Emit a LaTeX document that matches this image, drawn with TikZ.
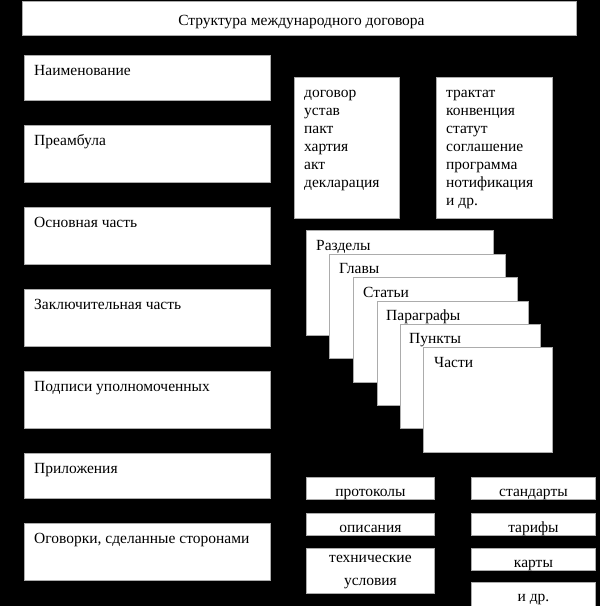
\documentclass[tikz,border=0pt]{standalone}
\usepackage{fontspec}
\setmainfont{Liberation Serif}
\begin{document}
\begin{tikzpicture}[x=1pt,y=-1pt,
  box/.style={draw=gray!65, fill=white, line width=0.9pt, inner sep=0pt, anchor=north west},
  lbl/.style={font=\fontsize{15.5}{18}\selectfont, inner sep=0pt, anchor=base west},
  clbl/.style={font=\fontsize{15.5}{18}\selectfont, inner sep=0pt, anchor=base}]
\useasboundingbox (0,0) rectangle (600,606);
\clip (0,0) rectangle (600,606);
\fill[black] (0,0) rectangle (600,606);
\newcommand\bx[5]{\node[box,minimum width=#3pt,minimum height=#4pt] (#5) at (#1,#2) {};}
% title
\bx{22}{1}{554}{34}{title}
\node[clbl] (titletext) at ([xshift=2pt,yshift=-24pt]title.north) {Структура международного договора};
% left column
\bx{24}{55}{246}{45}{n1}
\bx{24}{125}{246}{57}{n2}
\bx{24}{207}{246}{57}{n3}
\bx{24}{289}{246}{57}{n4}
\bx{24}{371}{246}{57}{n5}
\bx{24}{453}{246}{45}{n6}
\bx{24}{523}{246}{57}{n7}
\node[lbl] (t1) at ([xshift=10pt,yshift=-20pt]n1.north west) {Наименование};
\node[lbl] (t2) at ([xshift=10pt,yshift=-20pt]n2.north west) {Преамбула};
\node[lbl] (t3) at ([xshift=10pt,yshift=-20pt]n3.north west) {Основная часть};
\node[lbl] (t4) at ([xshift=10pt,yshift=-20pt]n4.north west) {Заключительная часть};
\node[lbl] (t5) at ([xshift=10pt,yshift=-20pt]n5.north west) {Подписи уполномоченных};
\node[lbl] (t6) at ([xshift=10pt,yshift=-20pt]n6.north west) {Приложения};
\node[lbl] (t7) at ([xshift=10pt,yshift=-20pt]n7.north west) {Оговорки, сделанные сторонами};
% name lists
\bx{294}{77}{105}{141}{b1}
\bx{436}{77}{116}{141}{b2}
\foreach \w [count=\i] in {договор,устав,пакт,хартия,акт,декларация}
  \node[lbl] (ba\i) at ([xshift=10pt,yshift={-20pt-(\i-1)*18pt}]b1.north west) {\w};
\foreach \w [count=\i] in {трактат,конвенция,статут,соглашение,программа,нотификация,и др.}
  \node[lbl] (bb\i) at ([xshift=10pt,yshift={-20pt-(\i-1)*18pt}]b2.north west) {\w};
% stacked parts
\bx{306}{230}{187}{105}{s1}
\node[lbl] (u1) at ([xshift=10pt,yshift=-20pt]s1.north west) {Разделы};
\bx{329}{254}{176}{104}{s2}
\node[lbl] (u2) at ([xshift=10pt,yshift=-19pt]s2.north west) {Главы};
\bx{353}{277}{164}{105}{s3}
\node[lbl] (u3) at ([xshift=10pt,yshift=-20pt]s3.north west) {Статьи};
\bx{377}{301}{151}{104}{s4}
\node[lbl] (u4) at ([xshift=9pt,yshift=-19pt]s4.north west) {Параграфы};
\bx{400}{324}{140}{104}{s5}
\node[lbl] (u5) at ([xshift=9pt,yshift=-19pt]s5.north west) {Пункты};
\bx{423}{347}{129}{105}{s6}
\node[lbl] (u6) at ([xshift=11pt,yshift=-20pt]s6.north west) {Части};
% annexes
\bx{306}{477}{128}{22}{p1}
\bx{306}{513}{128}{22}{p2}
\bx{306}{548}{128}{45}{p3}
\bx{471}{477}{124}{22}{q1}
\bx{471}{513}{124}{22}{q2}
\bx{471}{548}{124}{22}{q3}
\bx{471}{582}{124}{40}{q4}
\node[clbl] (pt1) at ([yshift=-19pt]p1.north) {протоколы};
\node[clbl] (pt2) at ([yshift=-19pt]p2.north) {описания};
\node[clbl] (pt3) at ([yshift=-14pt]p3.north) {технические};
\node[clbl] (pt4) at ([yshift=-37pt]p3.north) {условия};
\node[clbl] (qt1) at ([yshift=-19pt]q1.north) {стандарты};
\node[clbl] (qt2) at ([yshift=-19pt]q2.north) {тарифы};
\node[clbl] (qt3) at ([yshift=-19pt]q3.north) {карты};
\node[clbl] (qt4) at ([yshift=-19pt]q4.north) {и др.};
\end{tikzpicture}
\end{document}
